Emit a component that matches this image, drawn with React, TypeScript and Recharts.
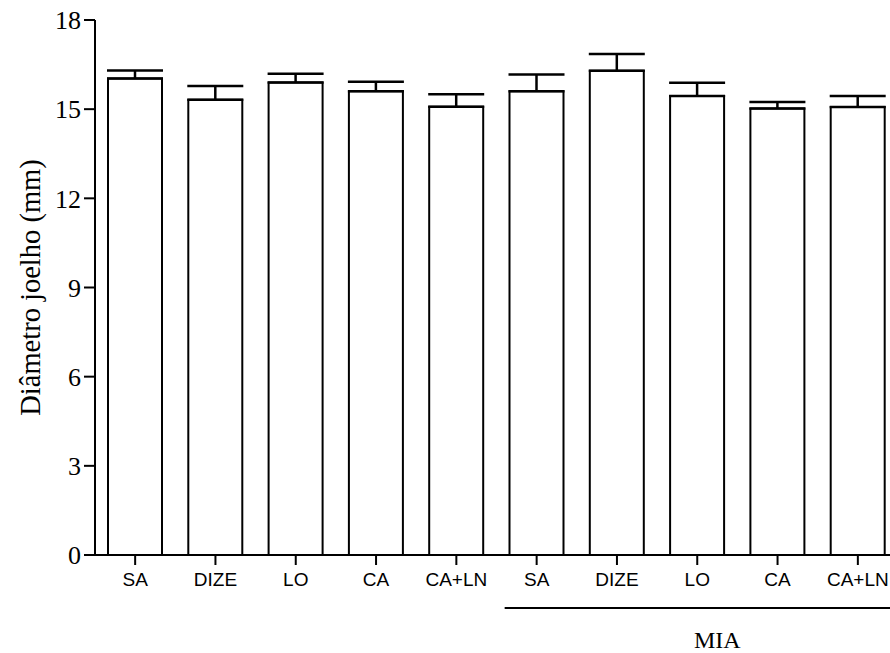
import React from 'react';
import { BarChart, Bar, XAxis, YAxis, ErrorBar } from 'recharts';

const categories = ['SA', 'DIZE', 'LO', 'CA', 'CA+LN', 'SA', 'DIZE', 'LO', 'CA', 'CA+LN'];
const groups = ['', '', '', '', '', 'MIA', 'MIA', 'MIA', 'MIA', 'MIA'];
const means = [16.03, 15.32, 15.9, 15.6, 15.08, 15.6, 16.29, 15.44, 15.02, 15.07];
const sems = [0.27, 0.46, 0.29, 0.32, 0.42, 0.57, 0.57, 0.45, 0.22, 0.37];
const yTicks = [0, 3, 6, 9, 12, 15, 18];

const data = categories.map((c, i) => ({
  key: `${c}-${i}`,
  label: c,
  group: groups[i],
  mean: means[i],
  err: [0, sems[i]],
}));

const SERIF = '"Liberation Serif", "Times New Roman", serif';
const SANS = '"Liberation Sans", Arial, sans-serif';

const HALF_BAND = 40.3;

const XTick = (props: any) => {
  const { x, y, payload } = props;
  const i = payload.index;
  const g = groups[i];
  const firstOfGroup = g !== '' && (i === 0 || groups[i - 1] !== g);
  const lineY = y + 41;
  return (
    <g>
      <text x={x} y={y + 19} textAnchor="middle" fontFamily={SANS} fontSize={19} fill="#000">
        {categories[i]}
      </text>
      {g !== '' && (
        <line
          x1={firstOfGroup ? x - 32 : x - HALF_BAND - 1}
          x2={x + HALF_BAND + 1}
          y1={lineY}
          y2={lineY}
          stroke="#000"
          strokeWidth={2}
        />
      )}
      {g !== '' && i === 7 && (
        <text x={x + 20} y={y + 81} textAnchor="middle" fontFamily={SERIF} fontSize={24} fill="#000">
          {g}
        </text>
      )}
    </g>
  );
};

const YLabel = (props: any) => {
  const vb = props.viewBox || {};
  const cx = 30;
  const cy = (vb.y ?? 20) + (vb.height ?? 535) / 2;
  return (
    <text
      x={cx}
      y={cy}
      transform={`rotate(-90, ${cx}, ${cy})`}
      textAnchor="middle"
      dominantBaseline="central"
      fontFamily={SERIF}
      fontSize={28.5}
      fill="#000"
    >
      Diâmetro joelho (mm)
    </text>
  );
};

export default function App() {
  return (
    <div style={{ position: 'absolute', left: 0, top: 0, width: 890, height: 653, overflow: 'hidden', background: '#fff' }}>
      <BarChart
        width={900}
        height={653}
        data={data}
        margin={{ top: 20, right: 2, left: 0, bottom: 38 }}
      >
        <XAxis
          dataKey="key"
          height={60}
          tick={<XTick />}
          tickSize={10}
          tickMargin={2}
          interval={0}
          axisLine={{ stroke: '#000', strokeWidth: 2 }}
          tickLine={{ stroke: '#000', strokeWidth: 2 }}
        />
        <YAxis
          width={95}
          domain={[0, 18]}
          ticks={yTicks}
          interval={0}
          tickSize={11}
          tickMargin={3}
          axisLine={{ stroke: '#000', strokeWidth: 2 }}
          tickLine={{ stroke: '#000', strokeWidth: 2 }}
          tick={{ fontFamily: SERIF, fontSize: 26, fill: '#000' }}
          label={<YLabel />}
        />
        <Bar dataKey="mean" fill="#fff" stroke="#000" strokeWidth={2} barSize={54} isAnimationActive={false}>
          <ErrorBar dataKey="err" direction="y" width={28} stroke="#000" strokeWidth={2.5} />
        </Bar>
      </BarChart>
    </div>
  );
}
